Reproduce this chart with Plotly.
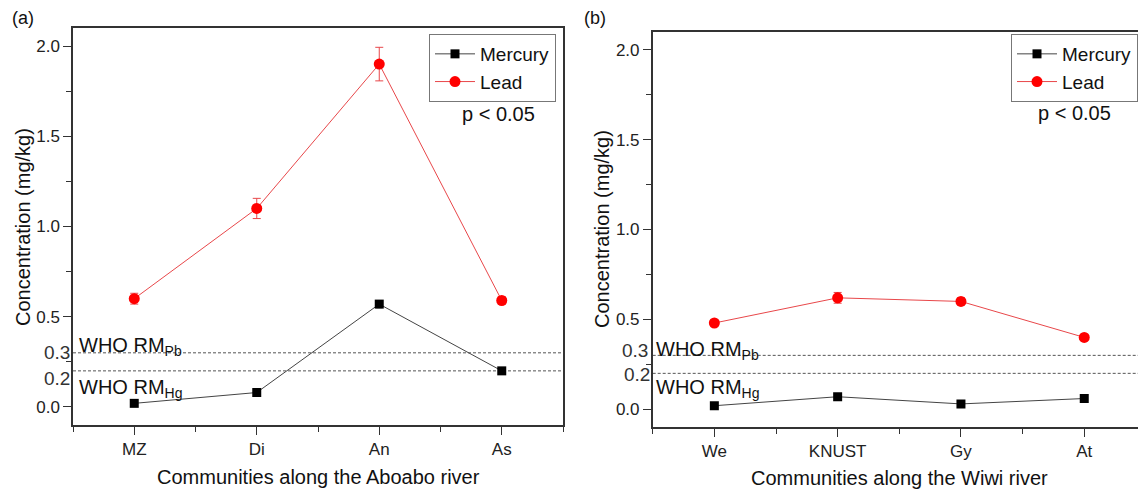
import plotly.graph_objects as go

# ---------------- data ----------------
aboabo_sites = ["MZ", "Di", "An", "As"]
aboabo_mercury = [0.02, 0.08, 0.57, 0.20]
aboabo_mercury_err = [0.008, 0.01, 0.02, 0.01]
aboabo_lead = [0.60, 1.10, 1.90, 0.59]
aboabo_lead_err = [0.03, 0.056, 0.093, 0.02]

wiwi_sites = ["We", "KNUST", "Gy", "At"]
wiwi_mercury = [0.02, 0.07, 0.03, 0.06]
wiwi_mercury_err = [0.005, 0.01, 0.005, 0.008]
wiwi_lead = [0.48, 0.62, 0.60, 0.40]
wiwi_lead_err = [0.015, 0.03, 0.02, 0.015]

who_rm_pb = 0.3
who_rm_hg = 0.2
y_tick_vals = [0.0, 0.5, 1.0, 1.5, 2.0]
y_tick_text = ["0.0", "0.5", "1.0", "1.5", "2.0"]

# ---------------- style ----------------
W, H = 1138, 489
FONT = "Arial, Liberation Sans, sans-serif"
RED = "#ff0000"
RED_LINE = "#e8474a"
BLACK = "#000000"
GREY_LINE = "#444444"
AXIS = "#333333"


def px(x):
    return x / W


def py(y):
    return 1 - y / H


fig = go.Figure()


def add_panel(sites, hg, hg_err, pb, pb_err, xa, ya, legend):
    pos = list(range(1, len(sites) + 1))
    fig.add_trace(go.Scatter(
        x=pos, y=hg, name="Mercury", mode="lines+markers",
        xaxis=xa, yaxis=ya, legend=legend,
        line=dict(color=GREY_LINE, width=1),
        marker=dict(symbol="square", size=9, color=BLACK),
        error_y=dict(type="data", array=hg_err, color=GREY_LINE, thickness=1, width=3),
    ))
    fig.add_trace(go.Scatter(
        x=pos, y=pb, name="Lead", mode="lines+markers",
        xaxis=xa, yaxis=ya, legend=legend,
        line=dict(color=RED_LINE, width=1),
        marker=dict(symbol="circle", size=11, color=RED),
        error_y=dict(type="data", array=pb_err, color=RED_LINE, thickness=1, width=4),
    ))


add_panel(aboabo_sites, aboabo_mercury, aboabo_mercury_err, aboabo_lead, aboabo_lead_err, "x", "y", "legend")
add_panel(wiwi_sites, wiwi_mercury, wiwi_mercury_err, wiwi_lead, wiwi_lead_err, "x2", "y2", "legend2")

tickfont = dict(family=FONT, size=17, color="#222222")
titlefont = dict(family=FONT, size=20, color="#111111")


def xaxis_cfg(sites, domain, rng, anchor):
    pos = list(range(1, len(sites) + 1))
    return dict(
        domain=domain, range=rng, anchor=anchor, automargin=False,
        tickmode="array", tickvals=pos, ticktext=sites,
        ticks="outside", ticklen=8, tickwidth=1.3, tickcolor=AXIS,
        minor=dict(tickmode="array", tickvals=[p - 0.5 for p in pos] + [pos[-1] + 0.5],
                   ticks="outside", ticklen=5, tickwidth=1.3, tickcolor=AXIS),
        showline=True, linecolor=AXIS, linewidth=1.5, mirror=True,
        showgrid=False, zeroline=False, tickfont=tickfont,
    )


def yaxis_cfg(domain, anchor, mirror):
    return dict(
        domain=domain, range=[-0.1, 2.1], anchor=anchor, automargin=False,
        tickmode="array", tickvals=y_tick_vals, ticktext=y_tick_text,
        ticks="outside", ticklen=8, tickwidth=1.3, tickcolor=AXIS,
        minor=dict(dtick=0.25, tick0=0, ticks="outside", ticklen=5, tickwidth=1.3, tickcolor=AXIS),
        showline=True, linecolor=AXIS, linewidth=1.5, mirror=mirror,
        showgrid=False, zeroline=False, tickfont=tickfont,
    )


right_span = (W - 652.7) / 123.3

legend_common = dict(xanchor="left", yanchor="top",
                     bgcolor="white", bordercolor="#777777", borderwidth=1,
                     font=dict(family=FONT, size=19, color="#111111"),
                     tracegroupgap=0, itemwidth=40)

fig.update_layout(
    width=W, height=H, autosize=False,
    margin=dict(l=0, r=0, t=0, b=0, autoexpand=False),
    paper_bgcolor="white", plot_bgcolor="white",
    font=dict(family=FONT, color="#111111"),
    xaxis=xaxis_cfg(aboabo_sites, [px(73), px(563)], [0.5, 4.5], "y"),
    yaxis=yaxis_cfg([py(425), py(28)], "x", True),
    xaxis2=xaxis_cfg(wiwi_sites, [px(652.7), 1.0], [0.5, 0.5 + right_span], "y2"),
    yaxis2=yaxis_cfg([py(427.3), py(31.7)], "x2", False),
    legend=dict(x=px(429), y=py(34), **legend_common),
    legend2=dict(x=px(1011), y=py(34), **legend_common),
    showlegend=True,
)

# WHO reference lines
for xd, yd in (("x domain", "y"), ("x2 domain", "y2")):
    for val in (who_rm_pb, who_rm_hg):
        fig.add_shape(type="line", xref=xd, yref=yd, x0=0, x1=1, y0=val, y1=val,
                      line=dict(color="#555555", width=1, dash="3px,2px"), layer="below")

annot_font = dict(family=FONT, size=20, color="#111111")
label_font = dict(family=FONT, size=19, color="#333333")

ann = [
    # axis titles
    dict(text="Communities along the Aboabo river", x=px(318), y=py(477), xanchor="center", yanchor="middle", font=titlefont),
    dict(text="Communities along the Wiwi river", x=px(899), y=py(478), xanchor="center", yanchor="middle", font=titlefont),
    dict(text="Concentration (mg/kg)", x=px(23), y=py(227), xanchor="center", yanchor="middle", textangle=-90, font=titlefont),
    dict(text="Concentration (mg/kg)", x=px(602), y=py(229), xanchor="center", yanchor="middle", textangle=-90, font=titlefont),
    # panel letters
    dict(text="(a)", x=px(10), y=py(18), xanchor="left", yanchor="middle", font=dict(family=FONT, size=18, color="#111")),
    dict(text="(b)", x=px(582), y=py(18), xanchor="left", yanchor="middle", font=dict(family=FONT, size=18, color="#111")),
    # p-values
    dict(text="p < 0.05", x=px(460), y=py(114), xanchor="left", yanchor="middle", font=annot_font),
    dict(text="p < 0.05", x=px(1036), y=py(113), xanchor="left", yanchor="middle", font=annot_font),
    # reference level labels, panel a
    dict(text=f"{who_rm_pb:.1f}", x=px(42), y=py(352), xanchor="left", yanchor="middle", font=label_font),
    dict(text=f"{who_rm_hg:.1f}", x=px(42), y=py(378), xanchor="left", yanchor="middle", font=label_font),
    dict(text="WHO RM<sub>Pb</sub>", x=px(77), y=py(346), xanchor="left", yanchor="middle", font=annot_font),
    dict(text="WHO RM<sub>Hg</sub>", x=px(77), y=py(388), xanchor="left", yanchor="middle", font=annot_font),
    # reference level labels, panel b
    dict(text=f"{who_rm_pb:.1f}", x=px(620), y=py(350), xanchor="left", yanchor="middle", font=label_font),
    dict(text=f"{who_rm_hg:.1f}", x=px(622), y=py(374), xanchor="left", yanchor="middle", font=label_font),
    dict(text="WHO RM<sub>Pb</sub>", x=px(654), y=py(350), xanchor="left", yanchor="middle", font=annot_font),
    dict(text="WHO RM<sub>Hg</sub>", x=px(654), y=py(388), xanchor="left", yanchor="middle", font=annot_font),
]
for a in ann:
    a.update(xref="paper", yref="paper", showarrow=False)
    fig.add_annotation(**a)

fig.write_html(
    "out.html",
    config={"displayModeBar": False},
    post_script="document.body.style.margin='0';document.body.style.padding='0';"
                "document.body.style.overflow='hidden';",
)
